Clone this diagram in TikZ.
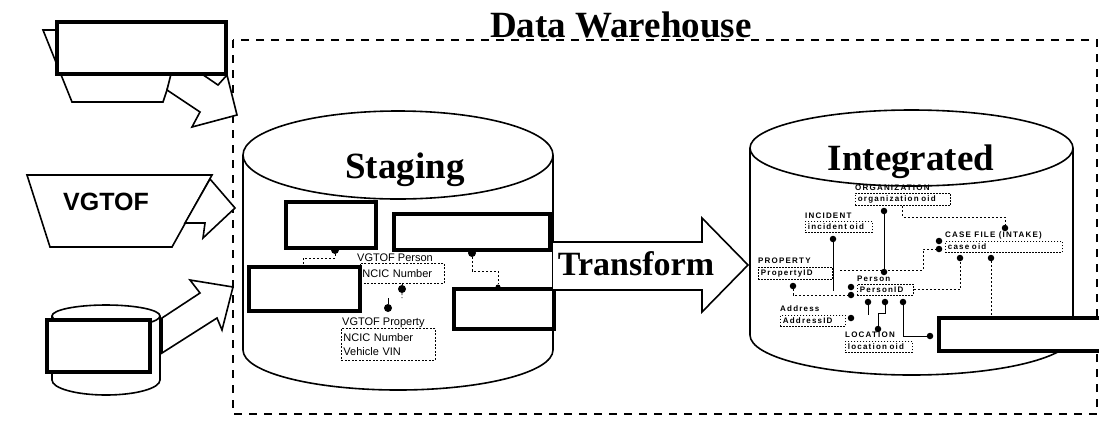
\documentclass[tikz,border=0pt]{standalone}
\usepackage{fontspec}
\setmainfont{Liberation Serif}
\setsansfont{Liberation Sans}
\newfontfamily\erfont[LetterSpace=15]{Liberation Sans}

\tikzset{
  dbline/.style={line width=1.6pt, line join=round},
  flow/.style={draw, line width=1.6pt, fill=white, line join=miter},
  bigbox/.style={draw, line width=4pt, fill=white, inner sep=0pt, anchor=north west},
  warehouse/.style={dash pattern=on 8pt off 7pt, line width=2pt},
  title/.style={font=\bfseries\fontsize{37}{40}\selectfont, inner sep=0pt},
  stgbox/.style={draw, dash pattern=on 2pt off 1.5pt, line width=0.8pt, inner sep=2pt, anchor=north west, align=left, font=\sffamily\fontsize{11}{14}\selectfont},
  stglabel/.style={anchor=base west, inner sep=0pt, font=\sffamily\fontsize{11}{12}\selectfont},
  erbox/.style={draw, dash pattern=on 1.5pt off 1.5pt, line width=0.8pt, inner sep=2.5pt, anchor=north west, align=left, font=\erfont\bfseries\fontsize{8}{9}\selectfont},
  erlabel/.style={anchor=base west, inner sep=0pt, font=\erfont\bfseries\fontsize{8}{9}\selectfont},
  crow/.style={circle, fill=black, inner sep=0pt, minimum size=8pt},
  ercrow/.style={crow, minimum size=6.5pt},
  rel/.style={dash pattern=on 2pt off 2pt, line width=0.9pt},
  idrel/.style={line width=1pt}
}

\begin{document}
\begin{tikzpicture}[x=1pt, y=-1pt]
  \fill[white] (0,0) rectangle (1099,424);
  \useasboundingbox (0,0) rectangle (1099,424);
  %% warehouse border
  \draw[warehouse] (233,40) rectangle (1097,414);
  \node[title, anchor=base west] (dw) at (490,37) {Data Warehouse};

  %% sources
  \draw[flow] (43,30) -- (187,30) -- (163,102) -- (72,102) -- cycle; % top source
  \draw[flow] (167,90) -- (172,70) -- (196,70) -- (218,85) -- (227,75) -- (237,115) -- (192,127) -- (200,112) -- cycle;
  \node[bigbox, minimum width=169pt, minimum height=52pt] (srca) at (55,20) {};
  \draw[flow] (27,175) -- (212,175) -- (172,247) -- (50,247) -- cycle; % VGTOF
  \draw[flow] (210,179) -- (235,208) -- (203,238) -- (205,223) -- (185,223) -- cycle;
  \node[font=\sffamily\bfseries\fontsize{25}{28}\selectfont, inner sep=0pt, anchor=base] (vgtof) at (106,210) {VGTOF};
  \draw[flow] (162,318) -- (200,293) -- (190,280) -- (233,287) -- (222,330) -- (217,318) -- (162,353) -- cycle; % bottom source
  \draw[flow] (52,316) -- (52,380) arc[start angle=180, end angle=360, x radius=54pt, y radius=15pt] -- (160,316);
  \draw[flow] (106,316) ellipse [x radius=54pt, y radius=11pt];
  \node[bigbox, minimum width=103pt, minimum height=52pt] (srcc) at (45,318) {};

  %% staging
  \draw[dbline, fill=white] (243,155) -- (243,350) arc[start angle=180, end angle=360, x radius=155pt, y radius=40pt] -- (553,155);
  \draw[dbline, fill=white] (398,155) ellipse [x radius=155pt, y radius=44pt];
  \node[title, anchor=base] (stg) at (405,178) {Staging};
  \node[bigbox, minimum width=90pt, minimum height=46pt] (stga) at (284,200) {};
  \node[bigbox, minimum width=156pt, minimum height=36pt] (stgb) at (392,212) {};
  \node[bigbox, minimum width=111pt, minimum height=44pt] (stgc) at (247,265) {};
  \node[bigbox, minimum width=100pt, minimum height=40pt] (stgd) at (452,287) {};
  \node[stglabel] (vpl) at (357,261) {VGTOF Person};
  \node[stgbox, text width=80pt, minimum height=20pt] (vpbox) at (360,263) {NCIC Number};
  \node[stglabel] (vvl) at (342,325) {VGTOF Property};
  \node[stgbox, text width=90pt, minimum height=32pt] (vvbox) at (341,328) {NCIC Number\\Vehicle VIN};
  \node[crow] (da) at (335,250) {};
  \node[crow] (db) at (472,253) {};
  \node[crow, minimum size=5pt] (dd) at (498,287) {};
  \node[crow] (dp) at (402,289) {};
  \node[crow] (dq) at (388,308) {};
  \coordinate (ca) at (303,258);
  \draw[rel] (da) |- (ca) -- (ca |- stgc.north);
  \draw[rel] (db) -- ++(0,18) -| (dd);
  \draw[rel] (vpbox.south) -- (dp) -- ++(0,9);
  \draw[idrel] (dq) -- ++(0,-10);

  %% transform
  \draw[flow] (553,242) -- (702,242) -- (702,218) -- (748,265) -- (702,312) -- (702,290) -- (553,290);
  \node[font=\bfseries\fontsize{34}{36}\selectfont, inner sep=0pt, anchor=base] (tf) at (636,275) {Transform};

  %% integrated
  \draw[dbline, fill=white] (750,148) -- (750,335) arc[start angle=180, end angle=360, x radius=161.5pt, y radius=40pt] -- (1073,148);
  \draw[dbline, fill=white] (911.5,148) ellipse [x radius=161.5pt, y radius=38pt];
  \node[title, anchor=base] (intg) at (911,170) {Integrated};
  % entities
  \node[erlabel] (orgl) at (855,190) {ORGANIZATION};
  \node[erbox, text width=90pt] (orgbox) at (855,193) {organization oid};
  \node[erlabel] (incl) at (805,218) {INCIDENT};
  \node[erbox, text width=62pt] (incbox) at (805,221) {incident oid};
  \node[erlabel] (casel) at (945,237) {CASE FILE (INTAKE)};
  \node[erbox, text width=112pt] (casebox) at (945,241) {case oid};
  \node[erlabel] (propl) at (758,263) {PROPERTY};
  \node[erbox, text width=69pt] (propbox) at (758,267) {PropertyID};
  \node[erlabel] (pl) at (857,281) {Person};
  \node[erbox, text width=51pt] (pbox) at (857,284) {PersonID};
  \node[erlabel] (addrl) at (780,311) {Address};
  \node[erbox, text width=60pt] (addrbox) at (780,315) {AddressID};
  \node[erlabel] (locl) at (845,337) {LOCATION};
  \node[erbox, text width=62pt] (locbox) at (845,341) {location oid};
  \node[bigbox, minimum width=175pt, minimum height=33pt] (bigbox) at (937,316) {};
  % relationship ends
  \node[ercrow] (o1) at (884,211) {};
  \node[ercrow] (o2) at (884,272) {};
  \node[ercrow] (i1) at (833,239) {};
  \node[ercrow] (p1) at (793,286) {};
  \node[ercrow] (pc1) at (851,287) {};
  \node[ercrow] (pc2) at (851,295) {};
  \node[ercrow] (c1) at (1005,228) {};
  \node[ercrow] (c2) at (939,241) {};
  \node[ercrow] (c3) at (939,249) {};
  \node[ercrow] (cb1) at (960,258) {};
  \node[ercrow] (cb2) at (991,258) {};
  \node[ercrow] (pd1) at (868,302) {};
  \node[ercrow] (pd2) at (885,302) {};
  \node[ercrow] (pd3) at (903,302) {};
  \node[ercrow] (ld) at (878,329) {};
  \node[ercrow] (ad) at (851,318) {};
  \node[ercrow] (bd) at (930,336) {};
  % relationships
  \draw[idrel] (o1) -- (o2);
  \draw[rel] (orgbox.south) -- ++(0,11) -| (c1);
  \draw[idrel] (i1) -- ++(0,52);
  \draw[rel] (p1) |- (pc2);
  \coordinate (rl) at (840,270);
  \coordinate (rb) at (923,270);
  \draw[rel] (rl) -- (rb) |- (c3);
  \draw[rel] (pbox.east) -| (cb1);
  \draw[rel] (cb2) -- (cb2 |- bigbox.north);
  \draw[idrel] (pd1) -- ++(0,13);
  \draw[idrel] (pd2) -- ++(0,11) -| (ld);
  \draw[idrel] (pd3) |- (bd);
\end{tikzpicture}
\end{document}
